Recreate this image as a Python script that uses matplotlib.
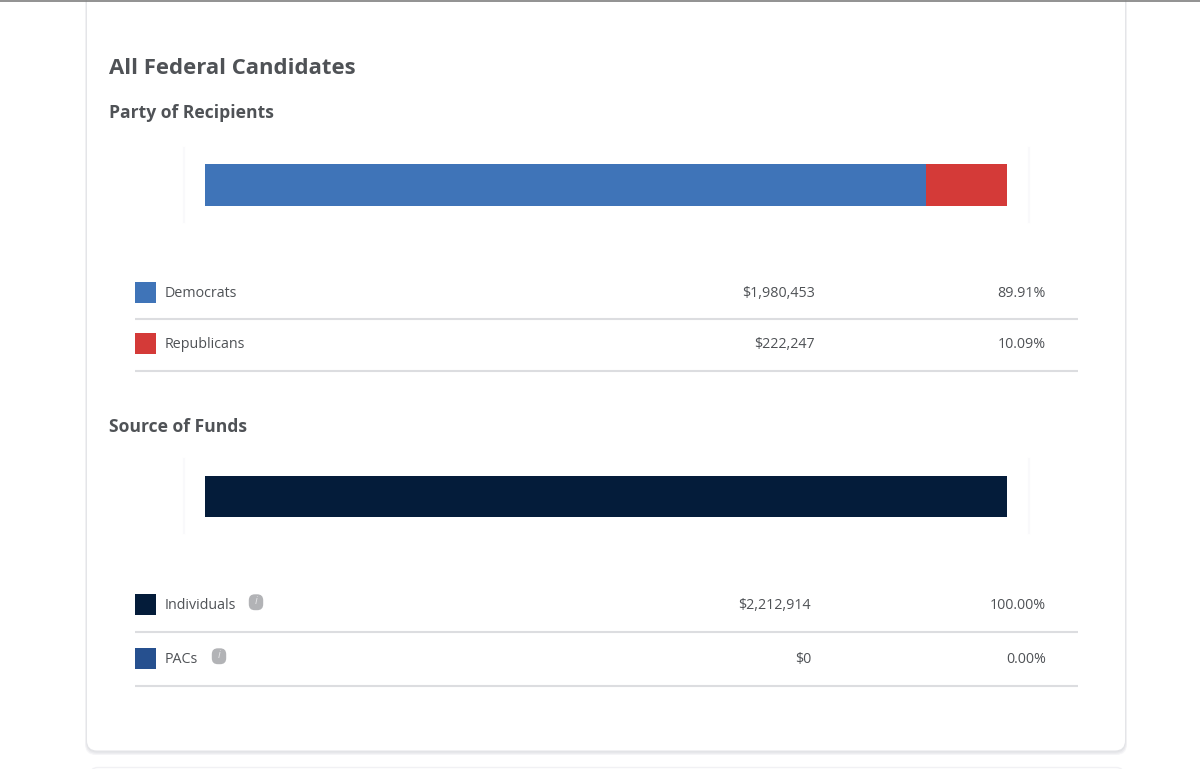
import matplotlib
matplotlib.use("Agg")
import matplotlib.pyplot as plt
from matplotlib.patches import FancyBboxPatch, Rectangle

party_names = ["Democrats", "Republicans"]
party_amounts = ["$1,980,453", "$222,247"]
party_shares = [89.91, 10.09]
party_colors = ["#3f74b8", "#d43a38"]

source_names = ["Individuals", "PACs"]
source_amounts = ["$2,212,914", "$0"]
source_shares = [100.00, 0.00]
source_colors = ["#041c3a", "#26508f"]

text_color = "#4f5256"
rule_color = "#dcdde0"

plt.rcParams["font.family"] = ["Open Sans", "DejaVu Sans"]

W, H = 1200, 769
fig = plt.figure(figsize=(W / 100, H / 100), dpi=100, facecolor="white")

# page layer in pixel coords, y pointing down
page = fig.add_axes([0, 0, 1, 1])
page.set_xlim(0, W)
page.set_ylim(H, 0)
page.axis("off")

page.plot([0, W], [0.5, 0.5], color="#7f7f7f", lw=1.2, zorder=5)

# next card just peeking in at the bottom
page.add_patch(FancyBboxPatch((90, 767.5), 1034, 30, boxstyle="round,pad=0,rounding_size=8",
                              fc="white", ec="#f1f1f4", lw=1))

# card shadow then card, shadow sits a little lower than the card
for grow, col in [(4.0, "#f5f5f7"), (2.8, "#ececef"), (1.6, "#e3e4e7")]:
    page.add_patch(FancyBboxPatch((87 - grow * 0.5, -30), 1038 + grow, 781 + grow,
                                  boxstyle="round,pad=0,rounding_size=11", fc=col, ec="none"))
page.add_patch(FancyBboxPatch((87, -30), 1038, 780.5, boxstyle="round,pad=0,rounding_size=10",
                              fc="white", ec="none"))

page.text(109, 69, "All Federal Candidates", fontsize=15.9, fontweight="bold",
          color=text_color, va="center")
page.text(109, 113.5, "Party of Recipients", fontsize=12.65, fontweight="bold",
          color=text_color, va="center")
page.text(109, 427, "Source of Funds", fontsize=12.65, fontweight="bold",
          color=text_color, va="center")


def bar_frame(top, bottom):
    # very faint box around each bar, open at top and bottom
    for x in (183.5, 1028.5):
        page.plot([x, x], [top, bottom], color="#f9f9fb", lw=1.5)


def stacked_bar(top, shares, colors):
    ax = fig.add_axes([205 / W, 1 - (top + 41.5) / H, 802 / W, 41.5 / H])
    left = 0
    for share, col in zip(shares, colors):
        ax.barh(0, share, left=left, height=1, color=col, linewidth=0)
        left += share
    ax.set_xlim(0, 100)
    ax.set_ylim(-0.5, 0.5)
    ax.axis("off")


def info_icon(x, y):
    page.add_patch(FancyBboxPatch((x - 4, y - 4.5), 8, 9.5, boxstyle="round,pad=3.2,rounding_size=6",
                                  fc="#b2b3b6", ec="none"))
    page.text(x, y, "i", fontsize=8, style="italic", color="#e4e4e6", ha="center", va="center")


def legend_rows(ys, names, amounts, shares, colors, amount_x, rules):
    for y, name, amount, share, col, rule in zip(ys, names, amounts, shares, colors, rules):
        page.add_patch(Rectangle((134.5, y - 10.5), 21, 21, fc=col, ec="none"))
        page.text(165, y + 1.2, name, fontsize=10.3, color=text_color, va="center")
        page.text(amount_x, y + 1.2, amount, fontsize=10.3, color=text_color, va="center", ha="right")
        page.text(1046, y + 1.2, f"{share:.2f}%", fontsize=10.3, color=text_color, va="center", ha="right")
        page.plot([134.5, 1077.5], [rule, rule], color=rule_color, lw=1.5, solid_capstyle="butt")


bar_frame(148, 222)
stacked_bar(164, party_shares, party_colors)
legend_rows([292, 343.5], party_names, party_amounts, party_shares, party_colors, 815, [318.5, 370.5])

bar_frame(459, 533)
stacked_bar(475.5, source_shares, source_colors)
legend_rows([604.5, 658.5], source_names, source_amounts, source_shares, source_colors, 811, [632, 686])
info_icon(256, 602)
info_icon(219, 656)

fig.savefig("out.png", dpi=100, facecolor="white")
